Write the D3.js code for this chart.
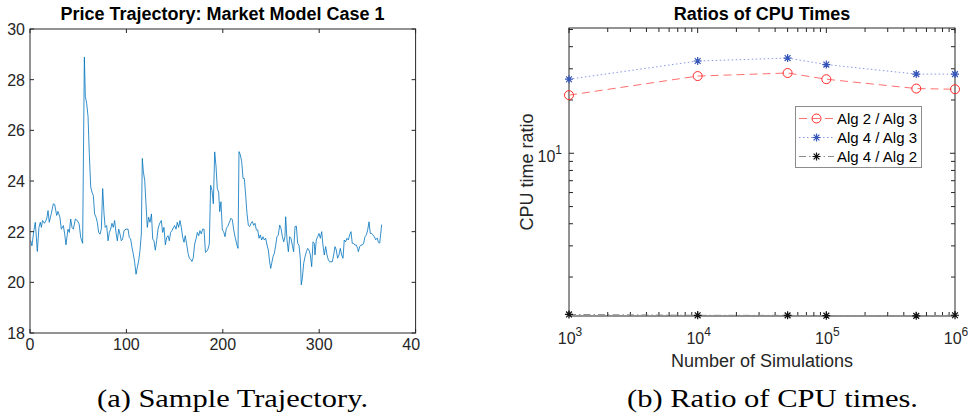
<!DOCTYPE html>
<html>
<head>
<meta charset="utf-8">
<script src="https://cdn.jsdelivr.net/npm/d3@7"></script>
<style>
  body { margin: 0; background: #fff; }
  svg { display: block; font-family: "Liberation Sans", Arial, sans-serif; }
  .axis-line { stroke: #262626; stroke-width: 1; fill: none; }
  .tick-label { font-size: 16px; fill: #262626; }
</style>
</head>
<body>
<svg width="973" height="420"></svg>
<script>
// (a) price trajectory
const days = [0.7, 2, 4, 5.5, 7.6, 9.3, 10.7, 11.8, 13, 15, 17.3, 18.7, 20, 22, 24.2, 25.6, 27.7, 29, 31, 32.5,
  34.6, 36, 37.3, 39.4, 40.8, 42.2, 43.6, 45, 47, 49, 51, 52.6, 54.6, 56.4, 57.4, 58.8, 60.2, 61.5, 63, 64.3,
  65.7, 67, 68.5, 69.8, 71.2, 72.6, 74, 75.4, 76.8, 78, 79.5, 81, 82.3, 83.7, 85, 86.4, 87.8, 89.2, 90.6, 92,
  93.4, 94.7, 96.1, 97.5, 99.6, 101.7, 103, 104.4, 105.8, 107.2, 108.6, 110, 111.3, 112.7, 114.1, 115.5, 116.5, 117.6, 119, 120.3,
  121.7, 123, 124.5, 126, 127.3, 128.6, 130, 131.4, 132.8, 134.2, 136.2, 137.6, 139, 140.4, 141.8, 143.2, 144.5, 145.9, 147.3, 148.7,
  150, 151.5, 152.8, 154.2, 155.6, 157, 158.4, 159.8, 161, 162.5, 164, 165.3, 166.7, 168, 169.4, 170.8, 172.2, 173.6, 175, 176.3,
  177.7, 179.1, 180.5, 182, 183.3, 184.6, 186, 187.4, 188.8, 190.2, 191.6, 193, 194.3, 195.7, 196.8, 198.1, 199.5, 200.9, 202.3, 203.7,
  205, 206.4, 208.5, 209.9, 211.3, 212.7, 214.7, 215.8, 216.8, 218.2, 219.6, 221, 222.3, 223.7, 225.1, 226.5, 227.9, 229.3, 230.6, 232,
  233.4, 234.8, 236.2, 237.6, 238.9, 240.3, 241.7, 243.1, 244.5, 245.9, 247.2, 248.6, 249.7, 250.7, 252.1, 253.5, 254.9, 256.2, 257.6, 259,
  260.4, 261.8, 263.2, 264.5, 265.2, 266.6, 268, 269.4, 270.7, 272.1, 273.5, 274.9, 276.3, 277.7, 279, 280.4, 281.4, 282.5, 283.9, 285.3,
  286.7, 288, 289.4, 290.8, 292.2, 293.6, 294.9, 295.6, 297, 298.4, 299.8, 301.2, 302.6, 303.9, 305.3, 306.7, 308.1, 309.5, 310.9, 312.2,
  313.6, 315, 316.4, 317.7, 319.1, 320.5, 321.9, 323.3, 324.7, 326, 327.4, 328.8, 330.2, 331.6, 333, 334.3, 335.7, 337.1, 338.5, 339.9,
  340.6, 342, 343.4, 344.7, 346.1, 347.5, 348.9, 350.3, 351.7, 353, 354.4, 355.8, 357.2, 358.6, 360.3, 361.4, 362.8, 364.8];
const price = [21.64, 21.44, 22.04, 22.37, 21.22, 22.17, 22.37, 22.17, 22.44, 22.33, 22.5, 22.83, 22.37, 22.7, 23.1, 23.07, 22.64, 22.8, 22.57, 22.1,
  22.24, 21.9, 21.48, 22.1, 21.97, 22.5, 22.17, 22.1, 22.5, 22.44, 22.3, 21.77, 21.54, 28.89, 27.34, 27.07, 26.54, 25.09, 23.76, 23.56,
  23.43, 22.7, 22.57, 22.37, 21.97, 21.9, 22.1, 23.7, 22.7, 22.17, 22.24, 21.64, 21.97, 22.1, 22.33, 22.17, 22.44, 21.97, 21.64, 22.1,
  21.9, 21.64, 21.71, 22.04, 22.1, 22.1, 21.77, 21.71, 21.38, 21.11, 20.78, 20.32, 20.58, 20.85, 21.25, 21.91, 24.89, 24.36, 24.03, 23.1,
  22.17, 22.57, 22.37, 22.7, 21.71, 21.64, 21.27, 21.64, 22.1, 22.3, 22.44, 21.97, 22.17, 21.48, 21.77, 21.84, 21.64, 21.97, 22.04, 22.15,
  22.24, 22.1, 22.37, 22.17, 22.44, 22.17, 21.77, 21.58, 21.84, 21.51, 21.14, 20.95, 20.91, 20.82, 20.98, 21.51, 21.71, 21.97, 21.84, 22.04,
  21.91, 22.1, 22.1, 21.18, 21.22, 21.31, 21.51, 23.83, 23.63, 23.1, 25.15, 24.56, 23.7, 23.56, 22.79, 23.18, 22.07, 22.0, 21.8, 22.13,
  22.2, 22.33, 22.53, 22.47, 22.07, 21.8, 21.47, 21.34, 25.16, 25.03, 24.76, 24.1, 24.1, 23.44, 22.72, 22.25, 22.2, 22.33, 22.4, 22.25,
  22.33, 22.07, 22.07, 21.74, 21.87, 21.67, 21.8, 21.67, 21.74, 21.47, 21.28, 20.81, 20.55, 20.75, 21.01, 21.15, 21.47, 21.8, 21.87, 22.26,
  22.13, 21.8, 21.6, 21.8, 22.59, 21.67, 21.21, 21.8, 21.74, 21.47, 21.21, 22.2, 22.22, 21.54, 21.47, 20.95, 19.9, 20.16, 20.75, 21.01,
  21.21, 21.34, 21.28, 21.08, 20.62, 21.6, 21.54, 21.08, 21.67, 21.8, 21.93, 21.74, 22.0, 21.47, 21.08, 21.41, 21.08, 20.88, 20.81, 20.81,
  20.81, 21.08, 21.41, 21.28, 20.95, 21.08, 21.34, 21.08, 20.95, 21.67, 21.6, 21.74, 21.67, 21.87, 22.0, 21.54, 21.54, 21.47, 21.47, 21.34,
  21.21, 21.41, 21.47, 21.47, 21.54, 21.8, 21.87, 22.07, 22.39, 21.93, 21.93, 21.87, 21.8, 21.68, 21.75, 21.58, 21.55, 22.28];
const dayTicks = [0, 100, 200, 300, 400];
const priceTicks = [18, 20, 22, 24, 26, 28, 30];

// (b) CPU time ratios
const nSims = [1e3, 1e4, 5e4, 1e5, 5e5, 1e6];
const alg2over3 = [21.3, 27.3, 28.4, 26.2, 23.2, 23.0];
const alg4over3 = [26.2, 33.2, 34.5, 31.7, 28.0, 28.0];
const alg4over2 = [1.23, 1.216, 1.215, 1.21, 1.207, 1.217];
const simTicks = [1e3, 1e4, 1e5, 1e6];
const legendLabels = ["Alg 2 / Alg 3", "Alg 4 / Alg 3", "Alg 4 / Alg 2"];

const svg = d3.select("svg");
const ink = "#262626";

// ---------- left panel ----------
svg.append("clipPath").attr("id", "clipA")
  .append("rect").attr("x", 0).attr("y", 0).attr("width", 420).attr("height", 420);
const gA = svg.append("g").attr("clip-path", "url(#clipA)");

const xA = d3.scaleLinear().domain([0, 400]).range([30, 415.6]);
const yA = d3.scaleLinear().domain([18, 30]).range([333, 29]);

gA.append("path")
  .datum(days.map((d, i) => [d, price[i]]))
  .attr("fill", "none")
  .attr("stroke", "#0072bd")
  .attr("stroke-width", 0.8)
  .attr("stroke-linejoin", "round")
  .attr("d", d3.line().x(d => xA(d[0])).y(d => yA(d[1])));

// box with inward ticks on all four sides
gA.append("rect").attr("class", "axis-line")
  .attr("x", xA(0)).attr("y", yA(30))
  .attr("width", xA(400) - xA(0)).attr("height", yA(18) - yA(30));

const tickLen = 4;
dayTicks.forEach(t => {
  gA.append("line").attr("class", "axis-line")
    .attr("x1", xA(t)).attr("x2", xA(t)).attr("y1", yA(18)).attr("y2", yA(18) - tickLen);
  gA.append("line").attr("class", "axis-line")
    .attr("x1", xA(t)).attr("x2", xA(t)).attr("y1", yA(30)).attr("y2", yA(30) + tickLen);
  gA.append("text").attr("class", "tick-label")
    .attr("x", xA(t)).attr("y", 350)
    .attr("text-anchor", "middle")
    .text(t);
});
priceTicks.forEach(t => {
  gA.append("line").attr("class", "axis-line")
    .attr("x1", xA(0)).attr("x2", xA(0) + tickLen).attr("y1", yA(t)).attr("y2", yA(t));
  gA.append("line").attr("class", "axis-line")
    .attr("x1", xA(400)).attr("x2", xA(400) - tickLen).attr("y1", yA(t)).attr("y2", yA(t));
  gA.append("text").attr("class", "tick-label")
    .attr("x", 25).attr("y", yA(t) + 6)
    .attr("text-anchor", "end")
    .text(t);
});

gA.append("text")
  .attr("x", 222.5).attr("y", 20)
  .attr("text-anchor", "middle")
  .attr("font-weight", "bold")
  .attr("font-size", 18)
  .attr("fill", "#000")
  .text("Price Trajectory: Market Model Case 1");

// ---------- right panel ----------
const xB = d3.scaleLog().domain([1e3, 1e6]).range([569, 955]);
const yB = d3.scaleLog().domain([1.205, 51]).range([316, 28]);
const gB = svg.append("g");

gB.append("rect").attr("class", "axis-line")
  .attr("x", 569).attr("y", 28).attr("width", 955 - 569).attr("height", 316 - 28);

// minor + major ticks from the log scales
xB.ticks().forEach(t => {
  const len = simTicks.includes(t) ? 5 : 4;
  gB.append("line").attr("class", "axis-line")
    .attr("x1", xB(t)).attr("x2", xB(t)).attr("y1", 316).attr("y2", 316 - len);
  gB.append("line").attr("class", "axis-line")
    .attr("x1", xB(t)).attr("x2", xB(t)).attr("y1", 28).attr("y2", 28 + len);
});
yB.ticks().filter(t => t >= 1.205 && t <= 51).forEach(t => {
  const len = t === 10 ? 5 : 4;
  gB.append("line").attr("class", "axis-line")
    .attr("x1", 569).attr("x2", 569 + len).attr("y1", yB(t)).attr("y2", yB(t));
  gB.append("line").attr("class", "axis-line")
    .attr("x1", 955).attr("x2", 955 - len).attr("y1", yB(t)).attr("y2", yB(t));
});

// power-of-ten labels
function powLabel(g, x, y, exp, anchor) {
  const txt = g.append("text").attr("class", "tick-label")
    .attr("x", x).attr("y", y).attr("text-anchor", anchor);
  txt.append("tspan").text("10");
  txt.append("tspan").attr("font-size", 12).attr("dy", -8).text(exp);
}
simTicks.forEach(t => powLabel(gB, xB(t) + 1, 344, Math.round(Math.log10(t)), "middle"));
powLabel(gB, 562, yB(10) + 9, 1, "end");

gB.append("text")
  .attr("x", 762).attr("y", 367)
  .attr("text-anchor", "middle")
  .attr("font-size", 18).attr("fill", ink)
  .text("Number of Simulations");
gB.append("text")
  .attr("transform", "translate(533,172) rotate(-90)")
  .attr("text-anchor", "middle")
  .attr("font-size", 18).attr("fill", ink)
  .text("CPU time ratio");
gB.append("text")
  .attr("x", 762).attr("y", 20)
  .attr("text-anchor", "middle")
  .attr("font-weight", "bold")
  .attr("font-size", 18)
  .attr("fill", "#000")
  .text("Ratios of CPU Times");

const series = [
  { vals: alg2over3, line: "#ff7070", dash: "8,5", mark: "circle", color: "#ff2a2a" },
  { vals: alg4over3, line: "#8a9ae6", dash: "1.5,2.5", mark: "star", color: "#3556b8" },
  { vals: alg4over2, line: "#8c8c8c", dash: "7,3,1.5,3", mark: "star", color: "#111" }
];

function drawMarker(g, type, x, y, color) {
  if (type === "circle") {
    g.append("circle").attr("cx", x).attr("cy", y).attr("r", 4.5)
      .attr("fill", "none").attr("stroke", color).attr("stroke-width", 1);
  } else {
    const s = 4, a = 2.9;
    g.append("path")
      .attr("d", `M${x - s},${y}L${x + s},${y}M${x},${y - s}L${x},${y + s}` +
        `M${x - a},${y - a}L${x + a},${y + a}M${x - a},${y + a}L${x + a},${y - a}`)
      .attr("stroke", color).attr("stroke-width", 1.2);
  }
}

const lineB = d3.line().x(d => xB(d[0])).y(d => yB(d[1]));
series.forEach(s => {
  const pts = nSims.map((n, i) => [n, s.vals[i]]);
  gB.append("path")
    .datum(pts)
    .attr("fill", "none")
    .attr("stroke", s.line)
    .attr("stroke-width", 1)
    .attr("stroke-dasharray", s.dash)
    .attr("d", lineB);
  pts.forEach(p => drawMarker(gB, s.mark, xB(p[0]), yB(p[1]), s.color));
});

// legend
const lg = gB.append("g");
lg.append("rect")
  .attr("x", 795.5).attr("y", 106.5).attr("width", 126).attr("height", 61)
  .attr("fill", "#fff").attr("stroke", "#8c8c8c").attr("stroke-width", 1);
series.forEach((s, i) => {
  const ly = 118.5 + i * 19;
  lg.append("line")
    .attr("x1", 799).attr("x2", 834).attr("y1", ly).attr("y2", ly)
    .attr("stroke", s.line).attr("stroke-width", 1).attr("stroke-dasharray", s.dash);
  drawMarker(lg, s.mark, 816.5, ly, s.color);
  lg.append("text")
    .attr("x", 837).attr("y", ly + 5.5)
    .attr("font-size", 15).attr("fill", "#000")
    .text(legendLabels[i]);
});

// ---------- captions ----------
svg.append("text")
  .attr("x", 232.5).attr("y", 407)
  .attr("text-anchor", "middle")
  .attr("font-family", "'Liberation Serif', 'DejaVu Serif', serif")
  .attr("font-size", 25)
  .attr("textLength", 271).attr("lengthAdjust", "spacingAndGlyphs")
  .text("(a) Sample Trajectory.");
svg.append("text")
  .attr("x", 772.5).attr("y", 407)
  .attr("text-anchor", "middle")
  .attr("font-family", "'Liberation Serif', 'DejaVu Serif', serif")
  .attr("font-size", 25)
  .attr("textLength", 291).attr("lengthAdjust", "spacingAndGlyphs")
  .text("(b) Ratio of CPU times.");
</script>
</body>
</html>
